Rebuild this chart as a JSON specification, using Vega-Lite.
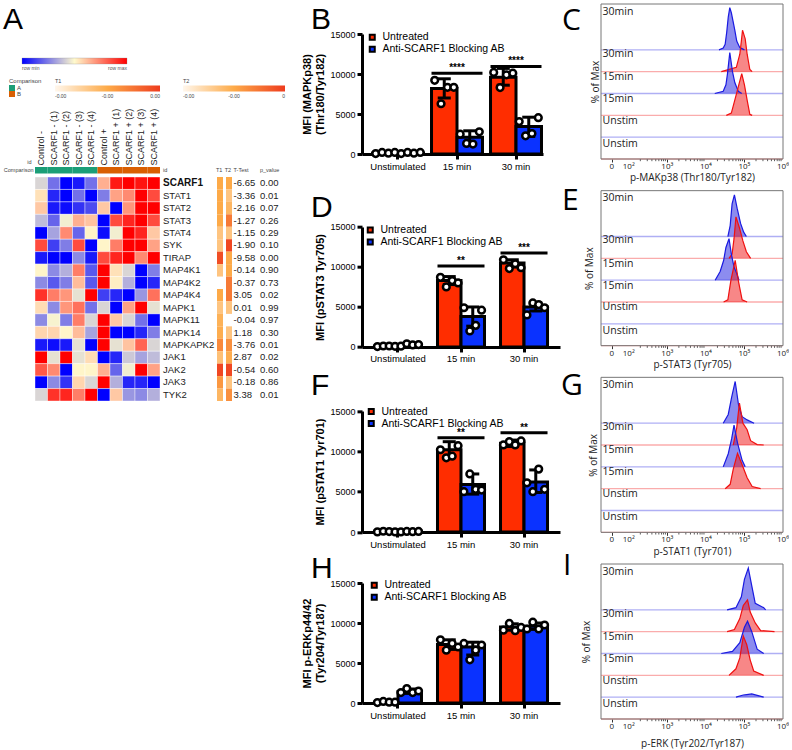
{"$schema":"https://vega.github.io/schema/vega-lite/v6.json","padding":{"left":0,"top":3,"right":0,"bottom":0},"background":"white","config":{"font":"Liberation Sans","view":{"stroke":null},"axis":{"grid":false},"title":{"font":"Liberation Sans","fontWeight":"normal","fontSize":30,"anchor":"start","frame":"group","baseline":"alphabetic","offset":0}},
"datasets":{
"genes":[{"id":"SCARF1","t":"-6.65","p":"0.00","T1":0.5,"T2":0.5},{"id":"STAT1","t":"-3.36","p":"0.01","T1":0.5,"T2":0.33},{"id":"STAT2","t":"-2.16","p":"0.07","T1":0.5,"T2":0.42},{"id":"STAT3","t":"-1.27","p":"0.26","T1":0.5,"T2":0.72},{"id":"STAT4","t":"-1.15","p":"0.29","T1":0.33,"T2":0.33},{"id":"SYK","t":"-1.90","p":"0.10","T1":0.33,"T2":0.95},{"id":"TIRAP","t":"-9.58","p":"0.00","T1":0.92,"T2":0.5},{"id":"MAP4K1","t":"-0.14","p":"0.90","T1":0.33,"T2":0.5},{"id":"MAP4K2","t":"-0.37","p":"0.73","T1":null,"T2":0.72},{"id":"MAP4K4","t":"3.05","p":"0.02","T1":0.5,"T2":0.72},{"id":"MAPK1","t":"0.01","p":"0.99","T1":0.33,"T2":0.33},{"id":"MAPK11","t":"-0.04","p":"0.97","T1":0.45,"T2":null},{"id":"MAPK14","t":"1.18","p":"0.30","T1":0.48,"T2":0.33},{"id":"MAPKAPK2","t":"-3.76","p":"0.01","T1":0.65,"T2":0.62},{"id":"JAK1","t":"2.87","p":"0.02","T1":0.36,"T2":0.48},{"id":"JAK2","t":"-0.54","p":"0.60","T1":0.95,"T2":0.95},{"id":"JAK3","t":"-0.18","p":"0.86","T1":0.58,"T2":0.33},{"id":"TYK2","t":"3.38","p":"0.01","T1":0.42,"T2":0.62}],
"heatwide":[{"id":"SCARF1","a":-0.15,"b":-0.55,"c":-1,"d":-0.9,"e":-0.55,"f":0.3,"g":0.9,"h":1,"i":0.92,"j":1},{"id":"STAT1","a":0.1,"b":-0.85,"c":-1,"d":-0.55,"e":-1,"f":-0.5,"g":0.35,"h":0.45,"i":1,"j":0.7},{"id":"STAT2","a":0.2,"b":-0.9,"c":-0.95,"d":-0.8,"e":-0.7,"f":0.2,"g":-1,"h":0.4,"i":1,"j":1},{"id":"STAT3","a":-0.25,"b":-0.6,"c":-0.05,"d":0.3,"e":0.22,"f":-1,"g":0.7,"h":0.85,"i":1,"j":0.7},{"id":"STAT4","a":-1,"b":-0.35,"c":0.45,"d":-0.6,"e":0.03,"f":-0.95,"g":-0.05,"h":1,"i":0.85,"j":0.2},{"id":"SYK","a":0.7,"b":-0.75,"c":-0.5,"d":0.7,"e":-1,"f":0.02,"g":0.5,"h":1,"i":1,"j":0.35},{"id":"TIRAP","a":-0.9,"b":-1,"c":-1,"d":-0.45,"e":-0.9,"f":0.7,"g":0.85,"h":1,"i":0.45,"j":1},{"id":"MAP4K1","a":0.02,"b":-0.45,"c":-0.3,"d":0.5,"e":-0.65,"f":1,"g":0.1,"h":-0.15,"i":-1,"j":-0.5},{"id":"MAP4K2","a":-0.45,"b":-0.65,"c":-0.5,"d":0.25,"e":-0.65,"f":1,"g":0.05,"h":-0.3,"i":-1,"j":-0.85},{"id":"MAP4K4","a":0.8,"b":0.5,"c":0.4,"d":-0.1,"e":1,"f":-0.75,"g":-0.85,"h":-1,"i":-0.4,"j":0.55},{"id":"MAPK1","a":0.12,"b":-0.45,"c":0.4,"d":0.55,"e":-0.55,"f":-0.15,"g":-1,"h":0.35,"i":1,"j":-0.1},{"id":"MAPK11","a":-0.45,"b":-0.03,"c":-0.5,"d":0.5,"e":-0.15,"f":1,"g":0.2,"h":-0.15,"i":-0.55,"j":-1},{"id":"MAPK14","a":0.15,"b":0.15,"c":0.02,"d":0.25,"e":-0.35,"f":1,"g":-1,"h":-1,"i":-0.85,"j":-0.5},{"id":"MAPKAPK2","a":-0.9,"b":-0.95,"c":-0.9,"d":-0.1,"e":-1,"f":1,"g":-0.1,"h":0.22,"i":0.6,"j":-0.15},{"id":"JAK1","a":1,"b":-0.1,"c":1,"d":-0.1,"e":0.12,"f":-1,"g":-0.85,"h":-0.2,"i":-0.35,"j":-0.25},{"id":"JAK2","a":0.65,"b":0.45,"c":-1,"d":0.02,"e":0.02,"f":0.3,"g":-0.6,"h":-0.05,"i":1,"j":0.35},{"id":"JAK3","a":-1,"b":-0.45,"c":-0.8,"d":0.15,"e":-0.15,"f":1,"g":-0.3,"h":-0.85,"i":-0.85,"j":-1},{"id":"TYK2","a":-0.15,"b":0.8,"c":0.85,"d":0.5,"e":1,"f":-1,"g":0.2,"h":-0.4,"i":-0.45,"j":-0.3}],
"strip":[{"s":"Control -","c":"A"},{"s":"SCARF1 - (1)","c":"A"},{"s":"SCARF1 - (2)","c":"A"},{"s":"SCARF1 - (3)","c":"A"},{"s":"SCARF1 - (4)","c":"A"},{"s":"Control +","c":"B"},{"s":"SCARF1 + (1)","c":"B"},{"s":"SCARF1 + (2)","c":"B"},{"s":"SCARF1 + (3)","c":"B"},{"s":"SCARF1 + (4)","c":"B"}],
"minor":[{"x":2.3},{"x":2.48},{"x":2.6},{"x":2.7},{"x":2.78},{"x":2.85},{"x":2.9},{"x":2.95},{"x":3.3},{"x":3.48},{"x":3.6},{"x":3.7},{"x":3.78},{"x":3.85},{"x":3.9},{"x":3.95},{"x":4.3},{"x":4.48},{"x":4.6},{"x":4.7},{"x":4.78},{"x":4.85},{"x":4.9},{"x":4.95},{"x":5.3},{"x":5.48},{"x":5.6},{"x":5.7},{"x":5.78},{"x":5.85},{"x":5.9},{"x":5.95}],
"ticklab":[{"x":1.56,"t":"0"},{"x":2,"t":"10²"},{"x":3,"t":"10³"},{"x":4,"t":"10⁴"},{"x":5,"t":"10⁵"},{"x":6,"t":"10⁶"}],
"frame":[{"x0":1.28,"x1":6,"y0":0,"y1":7.1}],
"bars":[
{"panel":"B","time":"Unstimulated","tr":"Untreated","m":100,"lo":20,"hi":200},{"panel":"B","time":"Unstimulated","tr":"Anti-SCARF1 Blocking AB","m":100,"lo":20,"hi":200},{"panel":"B","time":"15 min","tr":"Untreated","m":8200,"lo":7000,"hi":9400},{"panel":"B","time":"15 min","tr":"Anti-SCARF1 Blocking AB","m":2100,"lo":1200,"hi":2900},{"panel":"B","time":"30 min","tr":"Untreated","m":9600,"lo":8600,"hi":10700},{"panel":"B","time":"30 min","tr":"Anti-SCARF1 Blocking AB","m":3430,"lo":2200,"hi":4600},
{"panel":"D","time":"Unstimulated","tr":"Untreated","m":100,"lo":20,"hi":200},{"panel":"D","time":"Unstimulated","tr":"Anti-SCARF1 Blocking AB","m":280,"lo":100,"hi":450},{"panel":"D","time":"15 min","tr":"Untreated","m":8300,"lo":7800,"hi":8800},{"panel":"D","time":"15 min","tr":"Anti-SCARF1 Blocking AB","m":3800,"lo":2600,"hi":5000},{"panel":"D","time":"30 min","tr":"Untreated","m":10500,"lo":10000,"hi":10900},{"panel":"D","time":"30 min","tr":"Anti-SCARF1 Blocking AB","m":5000,"lo":4500,"hi":5500},
{"panel":"F","time":"Unstimulated","tr":"Untreated","m":100,"lo":20,"hi":180},{"panel":"F","time":"Unstimulated","tr":"Anti-SCARF1 Blocking AB","m":100,"lo":20,"hi":180},{"panel":"F","time":"15 min","tr":"Untreated","m":10200,"lo":9300,"hi":11200},{"panel":"F","time":"15 min","tr":"Anti-SCARF1 Blocking AB","m":5900,"lo":4700,"hi":7200},{"panel":"F","time":"30 min","tr":"Untreated","m":11000,"lo":10600,"hi":11400},{"panel":"F","time":"30 min","tr":"Anti-SCARF1 Blocking AB","m":6200,"lo":4900,"hi":7700},
{"panel":"H","time":"Unstimulated","tr":"Untreated","m":100,"lo":20,"hi":200},{"panel":"H","time":"Unstimulated","tr":"Anti-SCARF1 Blocking AB","m":1400,"lo":1200,"hi":1750},{"panel":"H","time":"15 min","tr":"Untreated","m":7300,"lo":6700,"hi":7900},{"panel":"H","time":"15 min","tr":"Anti-SCARF1 Blocking AB","m":7000,"lo":6000,"hi":7600},{"panel":"H","time":"30 min","tr":"Untreated","m":9500,"lo":9100,"hi":9900},{"panel":"H","time":"30 min","tr":"Anti-SCARF1 Blocking AB","m":9600,"lo":9200,"hi":10000}],
"pts":[
{"panel":"B","time":"Unstimulated","slot":"U1","v":50},{"panel":"B","time":"Unstimulated","slot":"U2","v":200},{"panel":"B","time":"Unstimulated","slot":"U3","v":100},{"panel":"B","time":"Unstimulated","slot":"U4","v":200},{"panel":"B","time":"Unstimulated","slot":"A1","v":50},{"panel":"B","time":"Unstimulated","slot":"A2","v":200},{"panel":"B","time":"Unstimulated","slot":"A3","v":100},{"panel":"B","time":"Unstimulated","slot":"A4","v":200},
{"panel":"B","time":"15 min","slot":"U1","v":9210},{"panel":"B","time":"15 min","slot":"U2","v":6280},{"panel":"B","time":"15 min","slot":"U3","v":8340},{"panel":"B","time":"15 min","slot":"U4","v":8340},{"panel":"B","time":"15 min","slot":"A1","v":2480},{"panel":"B","time":"15 min","slot":"A2","v":1320},{"panel":"B","time":"15 min","slot":"A3","v":1240},{"panel":"B","time":"15 min","slot":"A4","v":2770},
{"panel":"B","time":"30 min","slot":"U1","v":10200},{"panel":"B","time":"30 min","slot":"U2","v":8300},{"panel":"B","time":"30 min","slot":"U3","v":9900},{"panel":"B","time":"30 min","slot":"U4","v":10100},{"panel":"B","time":"30 min","slot":"A1","v":4050},{"panel":"B","time":"30 min","slot":"A2","v":2270},{"panel":"B","time":"30 min","slot":"A3","v":2560},{"panel":"B","time":"30 min","slot":"A4","v":4540},
{"panel":"D","time":"Unstimulated","slot":"U1","v":50},{"panel":"D","time":"Unstimulated","slot":"U2","v":120},{"panel":"D","time":"Unstimulated","slot":"U3","v":120},{"panel":"D","time":"Unstimulated","slot":"U4","v":80},{"panel":"D","time":"Unstimulated","slot":"A1","v":100},{"panel":"D","time":"Unstimulated","slot":"A2","v":400},{"panel":"D","time":"Unstimulated","slot":"A3","v":250},{"panel":"D","time":"Unstimulated","slot":"A4","v":300},
{"panel":"D","time":"15 min","slot":"U1","v":8700},{"panel":"D","time":"15 min","slot":"U2","v":7500},{"panel":"D","time":"15 min","slot":"U3","v":8300},{"panel":"D","time":"15 min","slot":"U4","v":8000},{"panel":"D","time":"15 min","slot":"A1","v":4900},{"panel":"D","time":"15 min","slot":"A2","v":2000},{"panel":"D","time":"15 min","slot":"A3","v":2700},{"panel":"D","time":"15 min","slot":"A4","v":4600},
{"panel":"D","time":"30 min","slot":"U1","v":10900},{"panel":"D","time":"30 min","slot":"U2","v":9800},{"panel":"D","time":"30 min","slot":"U3","v":10400},{"panel":"D","time":"30 min","slot":"U4","v":9900},{"panel":"D","time":"30 min","slot":"A1","v":4000},{"panel":"D","time":"30 min","slot":"A2","v":5500},{"panel":"D","time":"30 min","slot":"A3","v":5300},{"panel":"D","time":"30 min","slot":"A4","v":4900},
{"panel":"F","time":"Unstimulated","slot":"U1","v":20},{"panel":"F","time":"Unstimulated","slot":"U2","v":100},{"panel":"F","time":"Unstimulated","slot":"U3","v":60},{"panel":"F","time":"Unstimulated","slot":"U4","v":20},{"panel":"F","time":"Unstimulated","slot":"A1","v":20},{"panel":"F","time":"Unstimulated","slot":"A2","v":70},{"panel":"F","time":"Unstimulated","slot":"A3","v":50},{"panel":"F","time":"Unstimulated","slot":"A4","v":80},
{"panel":"F","time":"15 min","slot":"U1","v":10200},{"panel":"F","time":"15 min","slot":"U2","v":9200},{"panel":"F","time":"15 min","slot":"U3","v":9400},{"panel":"F","time":"15 min","slot":"U4","v":10700},{"panel":"F","time":"15 min","slot":"A1","v":5000},{"panel":"F","time":"15 min","slot":"A2","v":7200},{"panel":"F","time":"15 min","slot":"A3","v":5300},{"panel":"F","time":"15 min","slot":"A4","v":5200},
{"panel":"F","time":"30 min","slot":"U1","v":10800},{"panel":"F","time":"30 min","slot":"U2","v":11200},{"panel":"F","time":"30 min","slot":"U3","v":10800},{"panel":"F","time":"30 min","slot":"U4","v":11300},{"panel":"F","time":"30 min","slot":"A1","v":6100},{"panel":"F","time":"30 min","slot":"A2","v":5000},{"panel":"F","time":"30 min","slot":"A3","v":7800},{"panel":"F","time":"30 min","slot":"A4","v":5300},
{"panel":"H","time":"Unstimulated","slot":"U1","v":50},{"panel":"H","time":"Unstimulated","slot":"U2","v":200},{"panel":"H","time":"Unstimulated","slot":"U3","v":100},{"panel":"H","time":"Unstimulated","slot":"U4","v":100},{"panel":"H","time":"Unstimulated","slot":"A1","v":1300},{"panel":"H","time":"Unstimulated","slot":"A2","v":1800},{"panel":"H","time":"Unstimulated","slot":"A3","v":1300},{"panel":"H","time":"Unstimulated","slot":"A4","v":1500},
{"panel":"H","time":"15 min","slot":"U1","v":7900},{"panel":"H","time":"15 min","slot":"U2","v":6600},{"panel":"H","time":"15 min","slot":"U3","v":7450},{"panel":"H","time":"15 min","slot":"U4","v":7000},{"panel":"H","time":"15 min","slot":"A1","v":7450},{"panel":"H","time":"15 min","slot":"A2","v":5400},{"panel":"H","time":"15 min","slot":"A3","v":6600},{"panel":"H","time":"15 min","slot":"A4","v":7250},
{"panel":"H","time":"30 min","slot":"U1","v":9100},{"panel":"H","time":"30 min","slot":"U2","v":9950},{"panel":"H","time":"30 min","slot":"U3","v":9040},{"panel":"H","time":"30 min","slot":"U4","v":9450},{"panel":"H","time":"30 min","slot":"A1","v":9250},{"panel":"H","time":"30 min","slot":"A2","v":10100},{"panel":"H","time":"30 min","slot":"A3","v":9250},{"panel":"H","time":"30 min","slot":"A4","v":9750}],
"sig":[{"panel":"B","time":"15 min","y":10080,"t":"****"},{"panel":"B","time":"30 min","y":10950,"t":"****"},{"panel":"D","time":"15 min","y":10125,"t":"**"},{"panel":"D","time":"30 min","y":11750,"t":"***"},{"panel":"F","time":"15 min","y":11690,"t":"**"},{"panel":"F","time":"30 min","y":12310,"t":"**"}],
"base":[{"b":5,"s":"blue"},{"b":4,"s":"red"},{"b":3,"s":"blue"},{"b":2,"s":"red"},{"b":1,"s":"blue"},{"b":0,"s":"red"}],
"lab":[{"t":"30min","y":6.75},{"t":"30min","y":4.83},{"t":"15min","y":3.75},{"t":"15min","y":2.75},{"t":"Unstim","y":1.75},{"t":"Unstim","y":0.68}],
"hist":[
{"p":"C","k":5,"s":"blue","x":4.34,"y":5,"b":5},{"p":"C","k":5,"s":"blue","x":4.45,"y":5.08,"b":5},{"p":"C","k":5,"s":"blue","x":4.5,"y":5.25,"b":5},{"p":"C","k":5,"s":"blue","x":4.54,"y":5.8,"b":5},{"p":"C","k":5,"s":"blue","x":4.58,"y":6.5,"b":5},{"p":"C","k":5,"s":"blue","x":4.62,"y":6.93,"b":5},{"p":"C","k":5,"s":"blue","x":4.66,"y":6.7,"b":5},{"p":"C","k":5,"s":"blue","x":4.7,"y":6.35,"b":5},{"p":"C","k":5,"s":"blue","x":4.75,"y":5.9,"b":5},{"p":"C","k":5,"s":"blue","x":4.8,"y":5.4,"b":5},{"p":"C","k":5,"s":"blue","x":4.88,"y":5.1,"b":5},{"p":"C","k":5,"s":"blue","x":5.0,"y":5,"b":5},
{"p":"C","k":4,"s":"red","x":4.4,"y":4,"b":4},{"p":"C","k":4,"s":"red","x":4.79,"y":4.2,"b":4},{"p":"C","k":4,"s":"red","x":4.88,"y":4.8,"b":4},{"p":"C","k":4,"s":"red","x":4.92,"y":5.4,"b":4},{"p":"C","k":4,"s":"red","x":4.95,"y":5.9,"b":4},{"p":"C","k":4,"s":"red","x":5.02,"y":5.5,"b":4},{"p":"C","k":4,"s":"red","x":5.07,"y":4.8,"b":4},{"p":"C","k":4,"s":"red","x":5.14,"y":4.1,"b":4},{"p":"C","k":4,"s":"red","x":5.2,"y":4,"b":4},
{"p":"C","k":3,"s":"blue","x":4.23,"y":3,"b":3},{"p":"C","k":3,"s":"blue","x":4.45,"y":3.1,"b":3},{"p":"C","k":3,"s":"blue","x":4.52,"y":3.4,"b":3},{"p":"C","k":3,"s":"blue","x":4.56,"y":3.9,"b":3},{"p":"C","k":3,"s":"blue","x":4.62,"y":4.88,"b":3},{"p":"C","k":3,"s":"blue","x":4.69,"y":4.0,"b":3},{"p":"C","k":3,"s":"blue","x":4.75,"y":3.5,"b":3},{"p":"C","k":3,"s":"blue","x":4.84,"y":3.1,"b":3},{"p":"C","k":3,"s":"blue","x":4.93,"y":3,"b":3},
{"p":"C","k":2,"s":"red","x":4.53,"y":2,"b":2},{"p":"C","k":2,"s":"red","x":4.66,"y":2.1,"b":2},{"p":"C","k":2,"s":"red","x":4.75,"y":2.7,"b":2},{"p":"C","k":2,"s":"red","x":4.84,"y":3.3,"b":2},{"p":"C","k":2,"s":"red","x":4.93,"y":3.91,"b":2},{"p":"C","k":2,"s":"red","x":5.0,"y":3.4,"b":2},{"p":"C","k":2,"s":"red","x":5.07,"y":2.7,"b":2},{"p":"C","k":2,"s":"red","x":5.14,"y":2.05,"b":2},{"p":"C","k":2,"s":"red","x":5.2,"y":2,"b":2},
{"p":"E","k":5,"s":"blue","x":4.57,"y":5,"b":5},{"p":"E","k":5,"s":"blue","x":4.63,"y":5.5,"b":5},{"p":"E","k":5,"s":"blue","x":4.68,"y":6.5,"b":5},{"p":"E","k":5,"s":"blue","x":4.74,"y":6.91,"b":5},{"p":"E","k":5,"s":"blue","x":4.81,"y":6.3,"b":5},{"p":"E","k":5,"s":"blue","x":4.9,"y":5.6,"b":5},{"p":"E","k":5,"s":"blue","x":4.98,"y":5.2,"b":5},{"p":"E","k":5,"s":"blue","x":5.05,"y":5,"b":5},
{"p":"E","k":4,"s":"red","x":4.6,"y":4,"b":4},{"p":"E","k":4,"s":"red","x":4.68,"y":4.2,"b":4},{"p":"E","k":4,"s":"red","x":4.73,"y":4.9,"b":4},{"p":"E","k":4,"s":"red","x":4.78,"y":5.9,"b":4},{"p":"E","k":4,"s":"red","x":4.87,"y":5.4,"b":4},{"p":"E","k":4,"s":"red","x":4.96,"y":4.8,"b":4},{"p":"E","k":4,"s":"red","x":5.05,"y":4.3,"b":4},{"p":"E","k":4,"s":"red","x":5.16,"y":4,"b":4},
{"p":"E","k":3,"s":"blue","x":4.24,"y":3,"b":3},{"p":"E","k":3,"s":"blue","x":4.37,"y":3.4,"b":3},{"p":"E","k":3,"s":"blue","x":4.46,"y":3.9,"b":3},{"p":"E","k":3,"s":"blue","x":4.52,"y":4.5,"b":3},{"p":"E","k":3,"s":"blue","x":4.6,"y":4.9,"b":3},{"p":"E","k":3,"s":"blue","x":4.66,"y":4.2,"b":3},{"p":"E","k":3,"s":"blue","x":4.73,"y":3.6,"b":3},{"p":"E","k":3,"s":"blue","x":4.8,"y":3.3,"b":3},{"p":"E","k":3,"s":"blue","x":4.86,"y":3,"b":3},
{"p":"E","k":2,"s":"red","x":4.46,"y":2,"b":2},{"p":"E","k":2,"s":"red","x":4.57,"y":2.1,"b":2},{"p":"E","k":2,"s":"red","x":4.65,"y":3.0,"b":2},{"p":"E","k":2,"s":"red","x":4.76,"y":3.91,"b":2},{"p":"E","k":2,"s":"red","x":4.85,"y":2.9,"b":2},{"p":"E","k":2,"s":"red","x":4.94,"y":2.1,"b":2},{"p":"E","k":2,"s":"red","x":5.07,"y":2,"b":2},
{"p":"G","k":5,"s":"blue","x":4.45,"y":5,"b":5},{"p":"G","k":5,"s":"blue","x":4.58,"y":5.4,"b":5},{"p":"G","k":5,"s":"blue","x":4.67,"y":6.2,"b":5},{"p":"G","k":5,"s":"blue","x":4.76,"y":6.91,"b":5},{"p":"G","k":5,"s":"blue","x":4.85,"y":5.8,"b":5},{"p":"G","k":5,"s":"blue","x":4.94,"y":5.3,"b":5},{"p":"G","k":5,"s":"blue","x":5.07,"y":5.15,"b":5},{"p":"G","k":5,"s":"blue","x":5.25,"y":5,"b":5},
{"p":"G","k":4,"s":"red","x":4.71,"y":4,"b":4},{"p":"G","k":4,"s":"red","x":4.8,"y":4.8,"b":4},{"p":"G","k":4,"s":"red","x":4.87,"y":5.92,"b":4},{"p":"G","k":4,"s":"red","x":4.96,"y":5.0,"b":4},{"p":"G","k":4,"s":"red","x":5.07,"y":4.7,"b":4},{"p":"G","k":4,"s":"red","x":5.16,"y":4.2,"b":4},{"p":"G","k":4,"s":"red","x":5.33,"y":4.02,"b":4},{"p":"G","k":4,"s":"red","x":5.5,"y":4,"b":4},
{"p":"G","k":3,"s":"blue","x":4.45,"y":3,"b":3},{"p":"G","k":3,"s":"blue","x":4.58,"y":3.6,"b":3},{"p":"G","k":3,"s":"blue","x":4.67,"y":4.3,"b":3},{"p":"G","k":3,"s":"blue","x":4.73,"y":4.91,"b":3},{"p":"G","k":3,"s":"blue","x":4.82,"y":4.1,"b":3},{"p":"G","k":3,"s":"blue","x":4.94,"y":3.3,"b":3},{"p":"G","k":3,"s":"blue","x":5.02,"y":3,"b":3},
{"p":"G","k":2,"s":"red","x":4.5,"y":2,"b":2},{"p":"G","k":2,"s":"red","x":4.63,"y":2.2,"b":2},{"p":"G","k":2,"s":"red","x":4.71,"y":2.9,"b":2},{"p":"G","k":2,"s":"red","x":4.82,"y":3.62,"b":2},{"p":"G","k":2,"s":"red","x":4.94,"y":3.1,"b":2},{"p":"G","k":2,"s":"red","x":5.07,"y":2.5,"b":2},{"p":"G","k":2,"s":"red","x":5.2,"y":2.1,"b":2},{"p":"G","k":2,"s":"red","x":5.42,"y":2,"b":2},
{"p":"I","k":5,"s":"blue","x":4.55,"y":5,"b":5},{"p":"I","k":5,"s":"blue","x":4.78,"y":5.1,"b":5},{"p":"I","k":5,"s":"blue","x":4.92,"y":5.6,"b":5},{"p":"I","k":5,"s":"blue","x":5.0,"y":6.4,"b":5},{"p":"I","k":5,"s":"blue","x":5.1,"y":6.91,"b":5},{"p":"I","k":5,"s":"blue","x":5.19,"y":6.1,"b":5},{"p":"I","k":5,"s":"blue","x":5.28,"y":5.3,"b":5},{"p":"I","k":5,"s":"blue","x":5.5,"y":5.1,"b":5},{"p":"I","k":5,"s":"blue","x":5.55,"y":5,"b":5},
{"p":"I","k":4,"s":"red","x":4.55,"y":4,"b":4},{"p":"I","k":4,"s":"red","x":4.74,"y":4.1,"b":4},{"p":"I","k":4,"s":"red","x":4.88,"y":4.6,"b":4},{"p":"I","k":4,"s":"red","x":4.97,"y":5.2,"b":4},{"p":"I","k":4,"s":"red","x":5.08,"y":5.46,"b":4},{"p":"I","k":4,"s":"red","x":5.15,"y":4.9,"b":4},{"p":"I","k":4,"s":"red","x":5.28,"y":4.4,"b":4},{"p":"I","k":4,"s":"red","x":5.42,"y":4.05,"b":4},{"p":"I","k":4,"s":"red","x":5.78,"y":4,"b":4},
{"p":"I","k":3,"s":"blue","x":4.4,"y":3,"b":3},{"p":"I","k":3,"s":"blue","x":4.69,"y":3.1,"b":3},{"p":"I","k":3,"s":"blue","x":4.88,"y":3.5,"b":3},{"p":"I","k":3,"s":"blue","x":5.0,"y":4.2,"b":3},{"p":"I","k":3,"s":"blue","x":5.08,"y":4.48,"b":3},{"p":"I","k":3,"s":"blue","x":5.19,"y":4.0,"b":3},{"p":"I","k":3,"s":"blue","x":5.33,"y":3.2,"b":3},{"p":"I","k":3,"s":"blue","x":5.5,"y":3,"b":3},
{"p":"I","k":2,"s":"red","x":4.6,"y":2,"b":2},{"p":"I","k":2,"s":"red","x":4.78,"y":2.3,"b":2},{"p":"I","k":2,"s":"red","x":4.88,"y":2.8,"b":2},{"p":"I","k":2,"s":"red","x":4.97,"y":3.8,"b":2},{"p":"I","k":2,"s":"red","x":5.06,"y":3.4,"b":2},{"p":"I","k":2,"s":"red","x":5.15,"y":2.7,"b":2},{"p":"I","k":2,"s":"red","x":5.24,"y":2.2,"b":2},{"p":"I","k":2,"s":"red","x":5.5,"y":2,"b":2},
{"p":"I","k":1,"s":"blue","x":4.78,"y":1,"b":1},{"p":"I","k":1,"s":"blue","x":4.97,"y":1.1,"b":1},{"p":"I","k":1,"s":"blue","x":5.06,"y":1.12,"b":1},{"p":"I","k":1,"s":"blue","x":5.19,"y":1.15,"b":1},{"p":"I","k":1,"s":"blue","x":5.33,"y":1.08,"b":1},{"p":"I","k":1,"s":"blue","x":5.5,"y":1,"b":1}]
},
"resolve":{"scale":{"color":"independent","x":"independent","y":"independent","xOffset":"independent"},"legend":{"color":"independent"},"axis":{"x":"independent","y":"independent"}},
"concat":[
{"width":323,"height":155,"title":{"text":"A","dx":3,"dy":35},
"layer":[
{"data":{"name":"heatwide"},"transform":[{"fold":["a","b","c","d","e","f","g","h","i","j"],"as":["col","value"]},{"lookup":"col","from":{"data":{"values":[{"col":"a","s":"Control -"},{"col":"b","s":"SCARF1 - (1)"},{"col":"c","s":"SCARF1 - (2)"},{"col":"d","s":"SCARF1 - (3)"},{"col":"e","s":"SCARF1 - (4)"},{"col":"f","s":"Control +"},{"col":"g","s":"SCARF1 + (1)"},{"col":"h","s":"SCARF1 + (2)"},{"col":"i","s":"SCARF1 + (3)"},{"col":"j","s":"SCARF1 + (4)"}]},"key":"col","fields":["s"]}}],"mark":{"type":"rect","stroke":"#fff","strokeWidth":0.4},"encoding":{"x":{"field":"s","type":"nominal","scale":{"type":"band","domain":["Control -","SCARF1 - (1)","SCARF1 - (2)","SCARF1 - (3)","SCARF1 - (4)","Control +","SCARF1 + (1)","SCARF1 + (2)","SCARF1 + (3)","SCARF1 + (4)"],"range":[35,160],"padding":0},"axis":{"orient":"top","offset":-162,"title":"id","titleX":31,"titleY":-2,"titleAlign":"right","titleAngle":0,"titleFontSize":5.5,"titleFontWeight":"normal","titleColor":"#444","labelAngle":-90,"labelFontSize":9,"labelPadding":1,"domain":false,"ticks":false,"labelColor":"#222"}},"y":{"field":"id","type":"nominal","scale":{"type":"band","domain":["SCARF1","STAT1","STAT2","STAT3","STAT4","SYK","TIRAP","MAP4K1","MAP4K2","MAP4K4","MAPK1","MAPK11","MAPK14","MAPKAPK2","JAK1","JAK2","JAK3","TYK2"],"range":[173,397],"padding":0},"axis":null},"color":{"field":"value","type":"quantitative","scale":{"domain":[-1,0,1],"range":["#0000ff","#fffacd","#ff0000"],"interpolate":"rgb"},"legend":{"orient":"none","legendX":22,"legendY":54,"direction":"horizontal","title":null,"gradientLength":105,"gradientThickness":6,"values":[-1,1],"labelExpr":"datum.value<0?'row min':'row max'","labelFontSize":5,"labelColor":"#555","labelAlign":"center","labelOverlap":false,"gradientStrokeColor":"#888","gradientStrokeWidth":0.3}}}},
{"data":{"name":"strip"},"mark":"rect","encoding":{"x":{"field":"s","type":"nominal","scale":{"type":"band","domain":["Control -","SCARF1 - (1)","SCARF1 - (2)","SCARF1 - (3)","SCARF1 - (4)","Control +","SCARF1 + (1)","SCARF1 + (2)","SCARF1 + (3)","SCARF1 + (4)"],"range":[35,160],"padding":0},"axis":null},"y":{"datum":"Comparison","type":"nominal","scale":{"type":"band","domain":["Comparison"],"range":[163,169.5],"padding":0},"axis":{"orient":"left","offset":-34,"title":null,"domain":false,"ticks":false,"labelFontSize":5.5,"labelPadding":1,"labelColor":"#444"}},"color":{"field":"c","type":"nominal","scale":{"domain":["A","B"],"range":["#1b9e77","#d95f02"]},"legend":{"orient":"none","legendX":9,"legendY":74,"title":"Comparison","titleFontSize":6,"titleFontWeight":"normal","titleColor":"#444","titlePadding":1,"labelFontSize":6,"labelColor":"#444","symbolType":"square","symbolSize":36,"symbolStrokeWidth":0,"rowPadding":0,"labelOffset":2}}}},
{"data":{"name":"genes"},"transform":[{"filter":"datum.T1!=null"}],"mark":"rect","encoding":{"x":{"datum":"T1","type":"nominal","scale":{"type":"band","domain":["T1"],"range":[217,223],"padding":0},"axis":null},"y":{"field":"id","type":"nominal","scale":{"type":"band","domain":["SCARF1","STAT1","STAT2","STAT3","STAT4","SYK","TIRAP","MAP4K1","MAP4K2","MAP4K4","MAPK1","MAPK11","MAPK14","MAPKAPK2","JAK1","JAK2","JAK3","TYK2"],"range":[173,397],"padding":0},"axis":null},"color":{"field":"T1","type":"quantitative","scale":{"domain":[0,0.5,1],"range":["#fff7ec","#fdaa48","#ee3c1e"],"interpolate":"rgb"},"legend":{"orient":"none","legendX":55,"legendY":75,"direction":"horizontal","title":"T1","titleFontSize":5.5,"titleFontWeight":"normal","titleColor":"#444","titlePadding":1,"gradientLength":105,"gradientThickness":6,"values":[0,0.5,1],"labelExpr":"datum.value==1?'0.00':'-0.00'","labelFontSize":5,"labelColor":"#444","labelAlign":"center","labelOverlap":false}}}},
{"data":{"name":"genes"},"transform":[{"filter":"datum.T2!=null"}],"mark":"rect","encoding":{"x":{"datum":"T2","type":"nominal","scale":{"type":"band","domain":["T2"],"range":[226,232],"padding":0},"axis":null},"y":{"field":"id","type":"nominal","scale":{"type":"band","domain":["SCARF1","STAT1","STAT2","STAT3","STAT4","SYK","TIRAP","MAP4K1","MAP4K2","MAP4K4","MAPK1","MAPK11","MAPK14","MAPKAPK2","JAK1","JAK2","JAK3","TYK2"],"range":[173,397],"padding":0},"axis":null},"color":{"field":"T2","type":"quantitative","scale":{"domain":[0,0.5,1],"range":["#fff7ec","#fdaa48","#ee3c1e"],"interpolate":"rgb"},"legend":{"orient":"none","legendX":183,"legendY":75,"direction":"horizontal","title":"T2","titleFontSize":5.5,"titleFontWeight":"normal","titleColor":"#444","titlePadding":1,"gradientLength":102,"gradientThickness":6,"values":[0,0.5,1],"labelExpr":"datum.value==1?'0':'-0.00'","labelFontSize":5,"labelColor":"#444","labelAlign":"center","labelOverlap":false}}}},
{"data":{"values":[{"h":"id"},{"h":"T1"},{"h":"T2"},{"h":"T-Test"},{"h":"p_value"}]},"mark":{"type":"text","align":"left","fontSize":5.5,"color":"#444"},"encoding":{"x":{"field":"h","type":"nominal","scale":{"type":"point","domain":["id","_1","_2","_3","_4","_5","T1","T2","T-Test","_9","_10","p_value"],"range":[163,260],"padding":0},"axis":null},"y":{"datum":"Comparison","type":"nominal","scale":{"type":"band","domain":["Comparison"],"range":[163,169.5],"padding":0},"axis":null},"text":{"field":"h"}}},
{"data":{"name":"genes"},"transform":[{"filter":"datum.id!='SCARF1'"}],"mark":{"type":"text","align":"left","fontSize":9.5,"color":"#222"},"encoding":{"x":{"datum":"id","type":"nominal","scale":{"type":"point","domain":["id","_1","_2","_3","_4","_5","T1","T2","T-Test","_9","_10","p_value"],"range":[163,260],"padding":0},"axis":null},"y":{"field":"id","type":"nominal","scale":{"type":"band","domain":["SCARF1","STAT1","STAT2","STAT3","STAT4","SYK","TIRAP","MAP4K1","MAP4K2","MAP4K4","MAPK1","MAPK11","MAPK14","MAPKAPK2","JAK1","JAK2","JAK3","TYK2"],"range":[173,397],"padding":0},"axis":null},"text":{"field":"id"}}},
{"data":{"name":"genes"},"transform":[{"filter":"datum.id=='SCARF1'"}],"mark":{"type":"text","align":"left","fontSize":10,"fontWeight":"bold","color":"#111"},"encoding":{"x":{"datum":"id","type":"nominal","scale":{"type":"point","domain":["id","_1","_2","_3","_4","_5","T1","T2","T-Test","_9","_10","p_value"],"range":[163,260],"padding":0},"axis":null},"y":{"field":"id","type":"nominal","scale":{"type":"band","domain":["SCARF1","STAT1","STAT2","STAT3","STAT4","SYK","TIRAP","MAP4K1","MAP4K2","MAP4K4","MAPK1","MAPK11","MAPK14","MAPKAPK2","JAK1","JAK2","JAK3","TYK2"],"range":[173,397],"padding":0},"axis":null},"text":{"field":"id"}}},
{"data":{"name":"genes"},"mark":{"type":"text","align":"left","fontSize":9.5,"color":"#222"},"encoding":{"x":{"datum":"T-Test","type":"nominal","scale":{"type":"point","domain":["id","_1","_2","_3","_4","_5","T1","T2","T-Test","_9","_10","p_value"],"range":[163,260],"padding":0},"axis":null},"y":{"field":"id","type":"nominal","scale":{"type":"band","domain":["SCARF1","STAT1","STAT2","STAT3","STAT4","SYK","TIRAP","MAP4K1","MAP4K2","MAP4K4","MAPK1","MAPK11","MAPK14","MAPKAPK2","JAK1","JAK2","JAK3","TYK2"],"range":[173,397],"padding":0},"axis":null},"text":{"field":"t"}}},
{"data":{"name":"genes"},"mark":{"type":"text","align":"left","fontSize":9.5,"color":"#222"},"encoding":{"x":{"datum":"p_value","type":"nominal","scale":{"type":"point","domain":["id","_1","_2","_3","_4","_5","T1","T2","T-Test","_9","_10","p_value"],"range":[163,260],"padding":0},"axis":null},"y":{"field":"id","type":"nominal","scale":{"type":"band","domain":["SCARF1","STAT1","STAT2","STAT3","STAT4","SYK","TIRAP","MAP4K1","MAP4K2","MAP4K4","MAPK1","MAPK11","MAPK14","MAPKAPK2","JAK1","JAK2","JAK3","TYK2"],"range":[173,397],"padding":0},"axis":null},"text":{"field":"p"}}}
],
"resolve":{"scale":{"x":"independent","y":"independent","color":"independent"},"axis":{"x":"independent","y":"independent"},"legend":{"color":"independent"}}},

{"width":200,"height":155,"title":{"text":"B","dx":-51,"dy":35},"resolve":{"scale":{"xOffset":"independent"}},"layer":[
{"data":{"name":"bars"},"transform":[{"filter":"datum.panel=='B'"}],"mark":{"type":"bar","stroke":"#000","strokeWidth":3},"encoding":{"x":{"field":"time","type":"nominal","scale":{"domain":["Unstimulated","15 min","30 min"],"range":[0,181],"paddingInner":0.136,"paddingOuter":0.1017,"align":0.875},"axis":{"title":null,"labelAngle":0,"labelFontSize":9.5,"labelPadding":2,"domainWidth":3,"domainColor":"#000","tickWidth":3,"tickColor":"#000","tickSize":5,"offset":-5,"labelColor":"#000"}},"xOffset":{"field":"tr","type":"nominal","scale":{"domain":["Untreated","Anti-SCARF1 Blocking AB"]}},"y":{"field":"m","type":"quantitative","scale":{"domain":[0,15000],"range":[150,30],"nice":false},"axis":{"title":["MFI (MAPKp38)","(Thr180/Tyr182)"],"titleFontSize":11,"titleFontWeight":"bold","titleColor":"#000","titlePadding":4,"values":[0,2500,5000,7500,10000,12500,15000],"format":"d","labelExpr":"datum.value%5000==0?datum.label:''","labelFontSize":9,"labelPadding":2,"labelColor":"#000","domainWidth":3,"domainColor":"#000","tickWidth":3,"tickColor":"#000","tickSize":5}},"color":{"field":"tr","type":"nominal","scale":{"domain":["Untreated","Anti-SCARF1 Blocking AB"],"range":["#ff2d00","#0a32ff"]},"legend":{"orient":"none","legendX":5,"legendY":28,"title":null,"symbolType":"square","symbolSize":25,"symbolStrokeColor":"#000","symbolStrokeWidth":2,"labelFontSize":10.5,"labelColor":"#000","rowPadding":-20,"labelOffset":5,"symbolOpacity":1}}}},
{"data":{"name":"bars"},"transform":[{"filter":"datum.panel=='B'"}],"mark":{"type":"rule","stroke":"#000","strokeWidth":3},"encoding":{"x":{"field":"time","type":"nominal"},"xOffset":{"field":"tr","type":"nominal","scale":{"domain":["Untreated","Anti-SCARF1 Blocking AB"]}},"y":{"field":"lo","type":"quantitative"},"y2":{"field":"hi"}}},
{"data":{"name":"bars"},"transform":[{"filter":"datum.panel=='B'"}],"mark":{"type":"point","shape":"M-1,0L1,0","stroke":"#000","strokeWidth":3,"size":170,"opacity":1},"encoding":{"x":{"field":"time","type":"nominal"},"xOffset":{"field":"tr","type":"nominal","scale":{"domain":["Untreated","Anti-SCARF1 Blocking AB"]}},"y":{"field":"hi","type":"quantitative"}}},
{"data":{"name":"bars"},"transform":[{"filter":"datum.panel=='B'"}],"mark":{"type":"point","shape":"M-1,0L1,0","stroke":"#000","strokeWidth":3,"size":170,"opacity":1},"encoding":{"x":{"field":"time","type":"nominal"},"xOffset":{"field":"tr","type":"nominal","scale":{"domain":["Untreated","Anti-SCARF1 Blocking AB"]}},"y":{"field":"lo","type":"quantitative"}}},
{"data":{"name":"pts"},"transform":[{"filter":"datum.panel=='B'"}],"mark":{"type":"point","shape":"circle","fill":"#fff","stroke":"#000","strokeWidth":2.5,"size":45,"opacity":1,"fillOpacity":1},"encoding":{"x":{"field":"time","type":"nominal"},"xOffset":{"field":"slot","type":"nominal","scale":{"domain":["U1","U2","U3","U4","A1","A2","A3","A4"]}},"y":{"field":"v","type":"quantitative"}}},
{"data":{"name":"sig"},"transform":[{"filter":"datum.panel=='B'"}],"mark":{"type":"tick","bandSize":29,"thickness":3,"color":"#000","opacity":1},"encoding":{"x":{"field":"time","type":"nominal"},"y":{"field":"y","type":"quantitative"}}},
{"data":{"name":"sig"},"transform":[{"filter":"datum.panel=='B'"}],"mark":{"type":"text","fontSize":10,"fontWeight":"bold","color":"#000","dy":-5},"encoding":{"x":{"field":"time","type":"nominal"},"y":{"field":"y","type":"quantitative"},"text":{"field":"t"}}}
]},

{"width":182,"height":155,"title":{"text":"C","dx":-39,"dy":36,"font":"Open Sans"},"layer":[
{"data":{"name":"base"},"mark":{"type":"rule","strokeWidth":1.3,"opacity":0.35},"encoding":{"y":{"field":"b","type":"quantitative","scale":{"domain":[0,7.1],"nice":false},"axis":{"title":"% of Max","titleFont":"Open Sans","titleFontSize":10,"titleFontWeight":"normal","titleColor":"#222","titlePadding":1,"values":[],"domain":false,"ticks":false,"labels":false}},"color":{"field":"s","type":"nominal","scale":{"domain":["blue","red"],"range":["#1a1ae0","#f01010"]},"legend":null}}},
{"data":{"name":"hist"},"transform":[{"filter":"datum.p=='C'"}],"mark":{"type":"area","opacity":0.5},"encoding":{"x":{"field":"x","type":"quantitative","scale":{"domain":[1.28,6],"nice":false,"zero":false},"axis":{"title":"p-MAKp38 (Thr180/Tyr182)","titleFont":"Open Sans","titleFontSize":10,"titleFontWeight":"normal","titleColor":"#222","titlePadding":10,"values":[1.56,2,3,4,5,6],"labels":false,"domain":false,"tickSize":3,"tickColor":"#333"}},"y":{"field":"y","type":"quantitative"},"y2":{"field":"b"},"color":{"field":"s","type":"nominal"},"detail":{"field":"k"}}},
{"data":{"name":"hist"},"transform":[{"filter":"datum.p=='C'"}],"mark":{"type":"line","strokeWidth":1.2},"encoding":{"x":{"field":"x","type":"quantitative"},"y":{"field":"y","type":"quantitative"},"color":{"field":"s","type":"nominal"},"detail":{"field":"k"}}},
{"data":{"name":"lab"},"mark":{"type":"text","align":"left","font":"Open Sans","fontSize":10.5,"color":"#222"},"encoding":{"x":{"datum":1.32,"type":"quantitative"},"y":{"field":"y","type":"quantitative"},"text":{"field":"t"}}},
{"data":{"name":"minor"},"mark":{"type":"rule","stroke":"#333","strokeWidth":0.8},"encoding":{"x":{"field":"x","type":"quantitative"},"y":{"datum":-0.1,"type":"quantitative"},"y2":{"datum":0}}},
{"data":{"name":"ticklab"},"mark":{"type":"text","font":"Open Sans","fontSize":8,"color":"#222"},"encoding":{"x":{"field":"x","type":"quantitative"},"y":{"datum":-0.36,"type":"quantitative"},"text":{"field":"t"}}},
{"data":{"name":"frame"},"mark":{"type":"rect","fill":"transparent","stroke":"#777","strokeWidth":1},"encoding":{"x":{"field":"x0","type":"quantitative"},"x2":{"field":"x1"},"y":{"field":"y0","type":"quantitative"},"y2":{"field":"y1"}}}
]},

{"data":{"values":[]},"mark":"point","encoding":{},"width":20,"height":155},

{"width":200,"height":155,"title":{"text":"D","dx":-51,"dy":36},"resolve":{"scale":{"xOffset":"independent"}},"layer":[
{"data":{"name":"bars"},"transform":[{"filter":"datum.panel=='D'"}],"mark":{"type":"bar","stroke":"#000","strokeWidth":3},"encoding":{"x":{"field":"time","type":"nominal","scale":{"domain":["Unstimulated","15 min","30 min"],"range":[0,198],"paddingInner":0.254,"paddingOuter":0.198},"axis":{"title":null,"labelAngle":0,"labelFontSize":9.5,"labelPadding":2,"domainWidth":3,"domainColor":"#000","tickWidth":3,"tickColor":"#000","tickSize":5,"offset":1.3,"labelColor":"#000"}},"xOffset":{"field":"tr","type":"nominal","scale":{"domain":["Untreated","Anti-SCARF1 Blocking AB"]}},"y":{"field":"m","type":"quantitative","scale":{"domain":[0,15000],"range":[156.3,36.3],"nice":false},"axis":{"title":"MFI (pSTAT3 Tyr705)","titleFontSize":11,"titleFontWeight":"bold","titleColor":"#000","titlePadding":4,"values":[0,2500,5000,7500,10000,12500,15000],"format":"d","labelExpr":"datum.value%5000==0?datum.label:''","labelFontSize":9,"labelPadding":2,"labelColor":"#000","domainWidth":3,"domainColor":"#000","tickWidth":3,"tickColor":"#000","tickSize":5}},"color":{"field":"tr","type":"nominal","scale":{"domain":["Untreated","Anti-SCARF1 Blocking AB"],"range":["#ff2d00","#0a32ff"]},"legend":{"orient":"none","legendX":3,"legendY":34,"title":null,"symbolType":"square","symbolSize":25,"symbolStrokeColor":"#000","symbolStrokeWidth":2,"labelFontSize":10.5,"labelColor":"#000","rowPadding":-20,"labelOffset":5,"symbolOpacity":1}}}},
{"data":{"name":"bars"},"transform":[{"filter":"datum.panel=='D'"}],"mark":{"type":"rule","stroke":"#000","strokeWidth":3},"encoding":{"x":{"field":"time","type":"nominal"},"xOffset":{"field":"tr","type":"nominal","scale":{"domain":["Untreated","Anti-SCARF1 Blocking AB"]}},"y":{"field":"lo","type":"quantitative"},"y2":{"field":"hi"}}},
{"data":{"name":"bars"},"transform":[{"filter":"datum.panel=='D'"}],"mark":{"type":"point","shape":"M-1,0L1,0","stroke":"#000","strokeWidth":3,"size":170,"opacity":1},"encoding":{"x":{"field":"time","type":"nominal"},"xOffset":{"field":"tr","type":"nominal","scale":{"domain":["Untreated","Anti-SCARF1 Blocking AB"]}},"y":{"field":"hi","type":"quantitative"}}},
{"data":{"name":"bars"},"transform":[{"filter":"datum.panel=='D'"}],"mark":{"type":"point","shape":"M-1,0L1,0","stroke":"#000","strokeWidth":3,"size":170,"opacity":1},"encoding":{"x":{"field":"time","type":"nominal"},"xOffset":{"field":"tr","type":"nominal","scale":{"domain":["Untreated","Anti-SCARF1 Blocking AB"]}},"y":{"field":"lo","type":"quantitative"}}},
{"data":{"name":"pts"},"transform":[{"filter":"datum.panel=='D'"}],"mark":{"type":"point","shape":"circle","fill":"#fff","stroke":"#000","strokeWidth":2.5,"size":45,"opacity":1,"fillOpacity":1},"encoding":{"x":{"field":"time","type":"nominal"},"xOffset":{"field":"slot","type":"nominal","scale":{"domain":["U1","U2","U3","U4","A1","A2","A3","A4"]}},"y":{"field":"v","type":"quantitative"}}},
{"data":{"name":"sig"},"transform":[{"filter":"datum.panel=='D'"}],"mark":{"type":"tick","bandSize":30,"thickness":3,"color":"#000","opacity":1},"encoding":{"x":{"field":"time","type":"nominal"},"y":{"field":"y","type":"quantitative"}}},
{"data":{"name":"sig"},"transform":[{"filter":"datum.panel=='D'"}],"mark":{"type":"text","fontSize":10,"fontWeight":"bold","color":"#000","dy":-5},"encoding":{"x":{"field":"time","type":"nominal"},"y":{"field":"y","type":"quantitative"},"text":{"field":"t"}}}
]},

{"width":182,"height":155,"title":{"text":"E","dx":-39,"dy":30,"font":"Open Sans"},"layer":[
{"data":{"name":"base"},"mark":{"type":"rule","strokeWidth":1.3,"opacity":0.35},"encoding":{"y":{"field":"b","type":"quantitative","scale":{"domain":[0,7.1],"nice":false},"axis":{"title":"% of Max","titleFont":"Open Sans","titleFontSize":10,"titleFontWeight":"normal","titleColor":"#222","titlePadding":7,"values":[],"domain":false,"ticks":false,"labels":false}},"color":{"field":"s","type":"nominal","scale":{"domain":["blue","red"],"range":["#1a1ae0","#f01010"]},"legend":null}}},
{"data":{"name":"hist"},"transform":[{"filter":"datum.p=='E'"}],"mark":{"type":"area","opacity":0.5},"encoding":{"x":{"field":"x","type":"quantitative","scale":{"domain":[1.28,6],"nice":false,"zero":false},"axis":{"title":"p-STAT3 (Tyr705)","titleFont":"Open Sans","titleFontSize":10,"titleFontWeight":"normal","titleColor":"#222","titlePadding":10.5,"values":[1.56,2,3,4,5,6],"labels":false,"domain":false,"tickSize":3,"tickColor":"#333"}},"y":{"field":"y","type":"quantitative"},"y2":{"field":"b"},"color":{"field":"s","type":"nominal"},"detail":{"field":"k"}}},
{"data":{"name":"hist"},"transform":[{"filter":"datum.p=='E'"}],"mark":{"type":"line","strokeWidth":1.2},"encoding":{"x":{"field":"x","type":"quantitative"},"y":{"field":"y","type":"quantitative"},"color":{"field":"s","type":"nominal"},"detail":{"field":"k"}}},
{"data":{"name":"lab"},"mark":{"type":"text","align":"left","font":"Open Sans","fontSize":10.5,"color":"#222"},"encoding":{"x":{"datum":1.32,"type":"quantitative"},"y":{"field":"y","type":"quantitative"},"text":{"field":"t"}}},
{"data":{"name":"minor"},"mark":{"type":"rule","stroke":"#333","strokeWidth":0.8},"encoding":{"x":{"field":"x","type":"quantitative"},"y":{"datum":-0.1,"type":"quantitative"},"y2":{"datum":0}}},
{"data":{"name":"ticklab"},"mark":{"type":"text","font":"Open Sans","fontSize":8,"color":"#222"},"encoding":{"x":{"field":"x","type":"quantitative"},"y":{"datum":-0.36,"type":"quantitative"},"text":{"field":"t"}}},
{"data":{"name":"frame"},"mark":{"type":"rect","fill":"transparent","stroke":"#777","strokeWidth":1},"encoding":{"x":{"field":"x0","type":"quantitative"},"x2":{"field":"x1"},"y":{"field":"y0","type":"quantitative"},"y2":{"field":"y1"}}}
]},

{"data":{"values":[]},"mark":"point","encoding":{},"width":20,"height":155},

{"width":200,"height":155,"title":{"text":"F","dx":-51,"dy":28},"resolve":{"scale":{"xOffset":"independent"}},"layer":[
{"data":{"name":"bars"},"transform":[{"filter":"datum.panel=='F'"}],"mark":{"type":"bar","stroke":"#000","strokeWidth":3},"encoding":{"x":{"field":"time","type":"nominal","scale":{"domain":["Unstimulated","15 min","30 min"],"range":[0,198],"paddingInner":0.254,"paddingOuter":0.198},"axis":{"title":null,"labelAngle":0,"labelFontSize":9.5,"labelPadding":2,"domainWidth":3,"domainColor":"#000","tickWidth":3,"tickColor":"#000","tickSize":5,"offset":-0.3,"labelColor":"#000"}},"xOffset":{"field":"tr","type":"nominal","scale":{"domain":["Untreated","Anti-SCARF1 Blocking AB"]}},"y":{"field":"m","type":"quantitative","scale":{"domain":[0,15000],"range":[154.7,33.7],"nice":false},"axis":{"title":"MFI (pSTAT1 Tyr701)","titleFontSize":11,"titleFontWeight":"bold","titleColor":"#000","titlePadding":4,"values":[0,2500,5000,7500,10000,12500,15000],"format":"d","labelExpr":"datum.value%5000==0?datum.label:''","labelFontSize":9,"labelPadding":2,"labelColor":"#000","domainWidth":3,"domainColor":"#000","tickWidth":3,"tickColor":"#000","tickSize":5}},"color":{"field":"tr","type":"nominal","scale":{"domain":["Untreated","Anti-SCARF1 Blocking AB"],"range":["#ff2d00","#0a32ff"]},"legend":{"orient":"none","legendX":4,"legendY":29,"title":null,"symbolType":"square","symbolSize":25,"symbolStrokeColor":"#000","symbolStrokeWidth":2,"labelFontSize":10.5,"labelColor":"#000","rowPadding":-20,"labelOffset":5,"symbolOpacity":1}}}},
{"data":{"name":"bars"},"transform":[{"filter":"datum.panel=='F'"}],"mark":{"type":"rule","stroke":"#000","strokeWidth":3},"encoding":{"x":{"field":"time","type":"nominal"},"xOffset":{"field":"tr","type":"nominal","scale":{"domain":["Untreated","Anti-SCARF1 Blocking AB"]}},"y":{"field":"lo","type":"quantitative"},"y2":{"field":"hi"}}},
{"data":{"name":"bars"},"transform":[{"filter":"datum.panel=='F'"}],"mark":{"type":"point","shape":"M-1,0L1,0","stroke":"#000","strokeWidth":3,"size":170,"opacity":1},"encoding":{"x":{"field":"time","type":"nominal"},"xOffset":{"field":"tr","type":"nominal","scale":{"domain":["Untreated","Anti-SCARF1 Blocking AB"]}},"y":{"field":"hi","type":"quantitative"}}},
{"data":{"name":"bars"},"transform":[{"filter":"datum.panel=='F'"}],"mark":{"type":"point","shape":"M-1,0L1,0","stroke":"#000","strokeWidth":3,"size":170,"opacity":1},"encoding":{"x":{"field":"time","type":"nominal"},"xOffset":{"field":"tr","type":"nominal","scale":{"domain":["Untreated","Anti-SCARF1 Blocking AB"]}},"y":{"field":"lo","type":"quantitative"}}},
{"data":{"name":"pts"},"transform":[{"filter":"datum.panel=='F'"}],"mark":{"type":"point","shape":"circle","fill":"#fff","stroke":"#000","strokeWidth":2.5,"size":45,"opacity":1,"fillOpacity":1},"encoding":{"x":{"field":"time","type":"nominal"},"xOffset":{"field":"slot","type":"nominal","scale":{"domain":["U1","U2","U3","U4","A1","A2","A3","A4"]}},"y":{"field":"v","type":"quantitative"}}},
{"data":{"name":"sig"},"transform":[{"filter":"datum.panel=='F'"}],"mark":{"type":"tick","bandSize":30,"thickness":3,"color":"#000","opacity":1},"encoding":{"x":{"field":"time","type":"nominal"},"y":{"field":"y","type":"quantitative"}}},
{"data":{"name":"sig"},"transform":[{"filter":"datum.panel=='F'"}],"mark":{"type":"text","fontSize":10,"fontWeight":"bold","color":"#000","dy":-5},"encoding":{"x":{"field":"time","type":"nominal"},"y":{"field":"y","type":"quantitative"},"text":{"field":"t"}}}
]},

{"width":182,"height":155,"title":{"text":"G","dx":-40,"dy":28,"font":"Open Sans"},"layer":[
{"data":{"name":"base"},"mark":{"type":"rule","strokeWidth":1.3,"opacity":0.35},"encoding":{"y":{"field":"b","type":"quantitative","scale":{"domain":[0,7.1],"nice":false},"axis":{"title":"% of Max","titleFont":"Open Sans","titleFontSize":10,"titleFontWeight":"normal","titleColor":"#222","titlePadding":3,"values":[],"domain":false,"ticks":false,"labels":false}},"color":{"field":"s","type":"nominal","scale":{"domain":["blue","red"],"range":["#1a1ae0","#f01010"]},"legend":null}}},
{"data":{"name":"hist"},"transform":[{"filter":"datum.p=='G'"}],"mark":{"type":"area","opacity":0.5},"encoding":{"x":{"field":"x","type":"quantitative","scale":{"domain":[1.28,6],"nice":false,"zero":false},"axis":{"title":"p-STAT1 (Tyr701)","titleFont":"Open Sans","titleFontSize":10,"titleFontWeight":"normal","titleColor":"#222","titlePadding":11,"values":[1.56,2,3,4,5,6],"labels":false,"domain":false,"tickSize":3,"tickColor":"#333"}},"y":{"field":"y","type":"quantitative"},"y2":{"field":"b"},"color":{"field":"s","type":"nominal"},"detail":{"field":"k"}}},
{"data":{"name":"hist"},"transform":[{"filter":"datum.p=='G'"}],"mark":{"type":"line","strokeWidth":1.2},"encoding":{"x":{"field":"x","type":"quantitative"},"y":{"field":"y","type":"quantitative"},"color":{"field":"s","type":"nominal"},"detail":{"field":"k"}}},
{"data":{"name":"lab"},"mark":{"type":"text","align":"left","font":"Open Sans","fontSize":10.5,"color":"#222"},"encoding":{"x":{"datum":1.32,"type":"quantitative"},"y":{"field":"y","type":"quantitative"},"text":{"field":"t"}}},
{"data":{"name":"minor"},"mark":{"type":"rule","stroke":"#333","strokeWidth":0.8},"encoding":{"x":{"field":"x","type":"quantitative"},"y":{"datum":-0.1,"type":"quantitative"},"y2":{"datum":0}}},
{"data":{"name":"ticklab"},"mark":{"type":"text","font":"Open Sans","fontSize":8,"color":"#222"},"encoding":{"x":{"field":"x","type":"quantitative"},"y":{"datum":-0.36,"type":"quantitative"},"text":{"field":"t"}}},
{"data":{"name":"frame"},"mark":{"type":"rect","fill":"transparent","stroke":"#777","strokeWidth":1},"encoding":{"x":{"field":"x0","type":"quantitative"},"x2":{"field":"x1"},"y":{"field":"y0","type":"quantitative"},"y2":{"field":"y1"}}}
]},

{"data":{"values":[]},"mark":"point","encoding":{},"width":20,"height":155},

{"width":200,"height":155,"title":{"text":"H","dx":-51,"dy":24},"resolve":{"scale":{"xOffset":"independent"}},"layer":[
{"data":{"name":"bars"},"transform":[{"filter":"datum.panel=='H'"}],"mark":{"type":"bar","stroke":"#000","strokeWidth":3},"encoding":{"x":{"field":"time","type":"nominal","scale":{"domain":["Unstimulated","15 min","30 min"],"range":[0,198],"paddingInner":0.254,"paddingOuter":0.198},"axis":{"title":null,"labelAngle":0,"labelFontSize":9.5,"labelPadding":2,"domainWidth":3,"domainColor":"#000","tickWidth":3,"tickColor":"#000","tickSize":5,"offset":-16,"labelColor":"#000"}},"xOffset":{"field":"tr","type":"nominal","scale":{"domain":["Untreated","Anti-SCARF1 Blocking AB"]}},"y":{"field":"m","type":"quantitative","scale":{"domain":[0,15000],"range":[139,19],"nice":false},"axis":{"title":["MFI p-ERKp44/42","(Tyr204/Tyr187)"],"titleFontSize":11,"titleFontWeight":"bold","titleColor":"#000","titlePadding":4,"values":[0,2500,5000,7500,10000,12500,15000],"format":"d","labelExpr":"datum.value%5000==0?datum.label:''","labelFontSize":9,"labelPadding":2,"labelColor":"#000","domainWidth":3,"domainColor":"#000","tickWidth":3,"tickColor":"#000","tickSize":5}},"color":{"field":"tr","type":"nominal","scale":{"domain":["Untreated","Anti-SCARF1 Blocking AB"],"range":["#ff2d00","#0a32ff"]},"legend":{"orient":"none","legendX":7,"legendY":16,"title":null,"symbolType":"square","symbolSize":25,"symbolStrokeColor":"#000","symbolStrokeWidth":2,"labelFontSize":10.5,"labelColor":"#000","rowPadding":-20,"labelOffset":5,"symbolOpacity":1}}}},
{"data":{"name":"bars"},"transform":[{"filter":"datum.panel=='H'"}],"mark":{"type":"rule","stroke":"#000","strokeWidth":3},"encoding":{"x":{"field":"time","type":"nominal"},"xOffset":{"field":"tr","type":"nominal","scale":{"domain":["Untreated","Anti-SCARF1 Blocking AB"]}},"y":{"field":"lo","type":"quantitative"},"y2":{"field":"hi"}}},
{"data":{"name":"bars"},"transform":[{"filter":"datum.panel=='H'"}],"mark":{"type":"point","shape":"M-1,0L1,0","stroke":"#000","strokeWidth":3,"size":170,"opacity":1},"encoding":{"x":{"field":"time","type":"nominal"},"xOffset":{"field":"tr","type":"nominal","scale":{"domain":["Untreated","Anti-SCARF1 Blocking AB"]}},"y":{"field":"hi","type":"quantitative"}}},
{"data":{"name":"bars"},"transform":[{"filter":"datum.panel=='H'"}],"mark":{"type":"point","shape":"M-1,0L1,0","stroke":"#000","strokeWidth":3,"size":170,"opacity":1},"encoding":{"x":{"field":"time","type":"nominal"},"xOffset":{"field":"tr","type":"nominal","scale":{"domain":["Untreated","Anti-SCARF1 Blocking AB"]}},"y":{"field":"lo","type":"quantitative"}}},
{"data":{"name":"pts"},"transform":[{"filter":"datum.panel=='H'"}],"mark":{"type":"point","shape":"circle","fill":"#fff","stroke":"#000","strokeWidth":2.5,"size":45,"opacity":1,"fillOpacity":1},"encoding":{"x":{"field":"time","type":"nominal"},"xOffset":{"field":"slot","type":"nominal","scale":{"domain":["U1","U2","U3","U4","A1","A2","A3","A4"]}},"y":{"field":"v","type":"quantitative"}}}
]},

{"width":182,"height":155,"title":{"text":"I","dx":-38,"dy":21,"font":"Open Sans"},"layer":[
{"data":{"name":"base"},"mark":{"type":"rule","strokeWidth":1.3,"opacity":0.35},"encoding":{"y":{"field":"b","type":"quantitative","scale":{"domain":[0,7.1],"nice":false},"axis":{"title":"% of Max","titleFont":"Open Sans","titleFontSize":10,"titleFontWeight":"normal","titleColor":"#222","titlePadding":10,"values":[],"domain":false,"ticks":false,"labels":false}},"color":{"field":"s","type":"nominal","scale":{"domain":["blue","red"],"range":["#1a1ae0","#f01010"]},"legend":null}}},
{"data":{"name":"hist"},"transform":[{"filter":"datum.p=='I'"}],"mark":{"type":"area","opacity":0.5},"encoding":{"x":{"field":"x","type":"quantitative","scale":{"domain":[1.28,6],"nice":false,"zero":false},"axis":{"title":"p-ERK (Tyr202/Tyr187)","titleFont":"Open Sans","titleFontSize":10,"titleFontWeight":"normal","titleColor":"#222","titlePadding":16,"values":[1.56,2,3,4,5,6],"labels":false,"domain":false,"tickSize":3,"tickColor":"#333"}},"y":{"field":"y","type":"quantitative"},"y2":{"field":"b"},"color":{"field":"s","type":"nominal"},"detail":{"field":"k"}}},
{"data":{"name":"hist"},"transform":[{"filter":"datum.p=='I'"}],"mark":{"type":"line","strokeWidth":1.2},"encoding":{"x":{"field":"x","type":"quantitative"},"y":{"field":"y","type":"quantitative"},"color":{"field":"s","type":"nominal"},"detail":{"field":"k"}}},
{"data":{"name":"lab"},"mark":{"type":"text","align":"left","font":"Open Sans","fontSize":10.5,"color":"#222"},"encoding":{"x":{"datum":1.32,"type":"quantitative"},"y":{"field":"y","type":"quantitative"},"text":{"field":"t"}}},
{"data":{"name":"minor"},"mark":{"type":"rule","stroke":"#333","strokeWidth":0.8},"encoding":{"x":{"field":"x","type":"quantitative"},"y":{"datum":-0.1,"type":"quantitative"},"y2":{"datum":0}}},
{"data":{"name":"ticklab"},"mark":{"type":"text","font":"Open Sans","fontSize":8,"color":"#222"},"encoding":{"x":{"field":"x","type":"quantitative"},"y":{"datum":-0.36,"type":"quantitative"},"text":{"field":"t"}}},
{"data":{"name":"frame"},"mark":{"type":"rect","fill":"transparent","stroke":"#777","strokeWidth":1},"encoding":{"x":{"field":"x0","type":"quantitative"},"x2":{"field":"x1"},"y":{"field":"y0","type":"quantitative"},"y2":{"field":"y1"}}}
]}
],
"columns":3,"bounds":"flush","align":"each","spacing":{"row":31.67,"column":39}}
